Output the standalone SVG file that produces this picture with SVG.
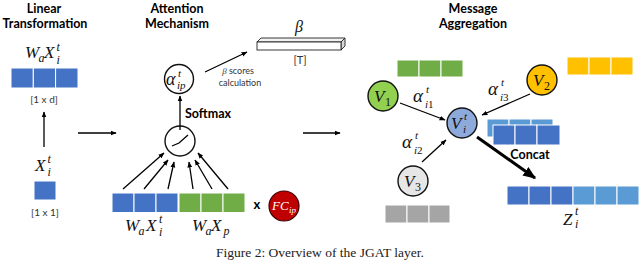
<svg xmlns="http://www.w3.org/2000/svg" width="640" height="262" viewBox="0 0 640 262">
<defs>
<style>
.t{font-family:Lato,"Liberation Sans",sans-serif;font-weight:bold;font-size:12.5px;fill:#000;text-anchor:middle}
.s{font-family:Lato,"Liberation Sans",sans-serif;font-size:10px;fill:#333;text-anchor:middle}
.m{font-family:"Liberation Serif","DejaVu Serif",serif;font-style:italic;font-size:17px;fill:#111}
.ms{font-family:"Liberation Serif","DejaVu Serif",serif;font-style:italic;font-size:12px;fill:#111}
.mu{font-family:"Liberation Serif","DejaVu Serif",serif;font-size:12px;fill:#111}
.b{fill:#4472c4;stroke:#fff;stroke-width:1}
.lb{fill:#5b9bd5;stroke:#fff;stroke-width:1}
.g{fill:#70ad47;stroke:#fff;stroke-width:1}
.y{fill:#ffc000;stroke:#fff;stroke-width:1}
.gr{fill:#a5a5a5;stroke:#fff;stroke-width:1}
.ar{stroke:#000;stroke-width:1.3;fill:none;marker-end:url(#ah)}
.node{stroke:#111;stroke-width:1.4}
</style>
<marker id="ah" viewBox="0 0 10 10" refX="9" refY="5" markerWidth="6" markerHeight="6" orient="auto" markerUnits="userSpaceOnUse"><path d="M0,1 L10,5 L0,9 z" fill="#000"/></marker>
<marker id="ahb" viewBox="0 0 10 10" refX="9" refY="5" markerWidth="13" markerHeight="13" orient="auto" markerUnits="userSpaceOnUse"><path d="M0,1 L10,5 L0,9 z" fill="#000"/></marker>
</defs>
<rect width="640" height="262" fill="#fff"/>

<!-- Titles -->
<g id="titles">
<text class="t" x="44" y="13">Linear</text>
<text class="t" x="45" y="28">Transformation</text>
<text class="t" x="177" y="13">Attention</text>
<text class="t" x="177" y="28">Mechanism</text>
<text class="t" x="473" y="13">Message</text>
<text class="t" x="473" y="28">Aggregation</text>
</g>

<!-- Linear transformation -->
<g id="wa-xi-vector">
<text class="m" x="25" y="58">W</text><text class="ms" x="38.5" y="62">a</text>
<text class="m" x="44" y="58">X</text><text class="ms" x="56.5" y="51">t</text><text class="ms" x="56.5" y="64">i</text>
<rect class="b" x="11" y="68" width="22.3" height="20"/>
<rect class="b" x="33.3" y="68" width="22.3" height="20"/>
<rect class="b" x="55.6" y="68" width="22.4" height="20"/>
<text class="s" x="44" y="103">[1 x d]</text>
</g>
<g id="xi-scalar">
<text class="m" x="35" y="171">X</text><text class="ms" x="47.5" y="163">t</text><text class="ms" x="47.5" y="176">i</text>
<rect class="b" x="34" y="181" width="22" height="19"/>
<text class="s" x="45" y="216">[1 x 1]</text>
</g>

<!-- Attention mechanism -->
<g id="alpha-ip">
<circle cx="179" cy="79" r="14.5" fill="#fff" class="node"/>
<text class="m" x="166" y="85" style="font-size:18px">α</text>
<text class="ms" x="178" y="77" style="font-size:11px">t</text>
<text class="ms" x="177" y="89" style="font-size:11px">ip</text>
</g>
<g id="beta">
<text class="m" x="295" y="32" style="font-size:16px">β</text>
<path d="M257,42 L261,38 L345,38 L341,42 z" fill="#f2f2f2" stroke="#222" stroke-width="0.9"/>
<path d="M341,42 L345,38 L345,46 L341,50 z" fill="#d9d9d9" stroke="#222" stroke-width="0.9"/>
<rect x="257" y="42" width="84" height="8" fill="#fff" stroke="#222" stroke-width="0.9"/>
<text class="s" x="300" y="64" style="font-size:11px">[T]</text>
</g>
<g id="neuron">
<circle cx="180" cy="141" r="15" fill="#fff" class="node"/>
<polyline points="172,146 179,143 188,135" fill="none" stroke="#000" stroke-width="1.3"/>
</g>
<g id="attention-input">
<rect class="b" x="112" y="193" width="22" height="19.5"/>
<rect class="b" x="134" y="193" width="22" height="19.5"/>
<rect class="b" x="156" y="193" width="22" height="19.5"/>
<rect class="g" x="179" y="193" width="22" height="19.5"/>
<rect class="g" x="201" y="193" width="22" height="19.5"/>
<rect class="g" x="223" y="193" width="22" height="19.5"/>
<text class="m" x="125" y="231">W</text><text class="ms" x="138.5" y="235">a</text>
<text class="m" x="146" y="231">X</text><text class="ms" x="159" y="223">t</text><text class="ms" x="159" y="236">i</text>
<text class="m" x="192" y="231">W</text><text class="ms" x="205.5" y="235">a</text>
<text class="m" x="211" y="231">X</text><text class="ms" x="223.5" y="235">p</text>
</g>
<g id="fc-ip">
<text x="257" y="209" style="font-family:Lato,'Liberation Sans',sans-serif;font-weight:bold;font-size:13px" text-anchor="middle">x</text>
<circle cx="284" cy="206" r="15" fill="#c00000" stroke="#3a0000" stroke-width="1.2"/>
<text x="272" y="210" style="font-family:'Liberation Serif',serif;font-style:italic;font-size:13px" fill="#fff">FC</text>
<text x="289" y="213" style="font-family:'Liberation Serif',serif;font-style:italic;font-size:9px" fill="#fff">ip</text>
</g>

<!-- Message aggregation -->
<g id="v1">
<rect class="g" x="397" y="60" width="22" height="17"/>
<rect class="g" x="419" y="60" width="22" height="17"/>
<rect class="g" x="441" y="60" width="22" height="17"/>
<circle cx="383" cy="96" r="15" fill="#92d050" class="node"/>
<text class="m" x="374" y="102" style="font-size:17px">V</text><text class="mu" x="385" y="106">1</text>
</g>
<g id="v2">
<rect class="y" x="567" y="57" width="22" height="18"/>
<rect class="y" x="589" y="57" width="22" height="18"/>
<rect class="y" x="611" y="57" width="22" height="18"/>
<circle cx="542" cy="80" r="15" fill="#ffc000" class="node"/>
<text class="m" x="533" y="86" style="font-size:17px">V</text><text class="mu" x="544" y="90">2</text>
</g>
<g id="v3">
<circle cx="413" cy="181" r="15" fill="#e6e6e6" class="node"/>
<text class="m" x="404" y="187" style="font-size:17px">V</text><text class="mu" x="415" y="191">3</text>
<rect class="gr" x="385" y="205" width="22" height="18"/>
<rect class="gr" x="407" y="205" width="22" height="18"/>
<rect class="gr" x="429" y="205" width="21" height="18"/>
</g>
<g id="vi">
<circle cx="462" cy="123" r="15" fill="#8eaadb" class="node"/>
<text class="m" x="451" y="129" style="font-size:17px">V</text><text class="ms" x="464" y="120" style="font-size:11px">t</text><text class="ms" x="463" y="133" style="font-size:11px">i</text>
</g>
<g id="concat">
<rect class="lb" x="487" y="119" width="22" height="18"/>
<rect class="lb" x="509" y="119" width="22" height="18"/>
<rect class="lb" x="531" y="119" width="22" height="18"/>
<rect class="b" x="493" y="125" width="22" height="20"/>
<rect class="b" x="515" y="125" width="22" height="20"/>
<rect class="b" x="537" y="125" width="23" height="20"/>
<text class="t" x="530" y="159">Concat</text>
</g>
<g id="zi">
<rect class="b" x="507" y="186" width="22" height="19"/>
<rect class="b" x="529" y="186" width="22" height="19"/>
<rect class="b" x="551" y="186" width="22" height="19"/>
<rect class="lb" x="573" y="186" width="22" height="19"/>
<rect class="lb" x="595" y="186" width="22" height="19"/>
<rect class="lb" x="617" y="186" width="22" height="19"/>
<text class="m" x="563" y="225">Z</text><text class="ms" x="575" y="215">t</text><text class="ms" x="575" y="228">i</text>
</g>

<!-- Connectors -->
<g id="connectors">
<line class="ar" x1="44" y1="147" x2="44" y2="112"/>
<line class="ar" x1="78" y1="133" x2="116" y2="133"/>
<line class="ar" x1="303" y1="133" x2="340" y2="133"/>
<line class="ar" x1="180" y1="130" x2="180" y2="96"/>
<line class="ar" x1="205" y1="72" x2="247" y2="52"/>
<line class="ar" x1="123" y1="189" x2="164" y2="153"/>
<line class="ar" x1="144" y1="189" x2="168" y2="160"/>
<line class="ar" x1="168" y1="189" x2="174" y2="162"/>
<line class="ar" x1="193" y1="189" x2="189" y2="162"/>
<line class="ar" x1="212" y1="189" x2="195" y2="160"/>
<line class="ar" x1="228" y1="189" x2="198" y2="153"/>
<line class="ar" x1="400" y1="103" x2="445" y2="120"/>
<line class="ar" x1="530" y1="94" x2="482" y2="115"/>
<line class="ar" x1="422" y1="162" x2="446" y2="140"/>
<line x1="477" y1="137" x2="535" y2="178" stroke="#000" stroke-width="3" marker-end="url(#ahb)"/>
</g>

<!-- Connector labels -->
<g id="labels">
<text x="238" y="74" class="s" style="font-size:9px"><tspan font-style="italic" font-family="Liberation Serif,serif">β</tspan> scores</text>
<text x="240" y="86" class="s" style="font-size:9px">calculation</text>
<text class="t" x="208" y="118">Softmax</text>
<text class="m" x="413" y="102" style="font-size:19px">α</text><text class="ms" x="426" y="93" style="font-size:11px">t</text><text class="ms" x="425" y="108" style="font-size:11px">i<tspan font-style="normal">1</tspan></text>
<text class="m" x="488" y="95" style="font-size:19px">α</text><text class="ms" x="501" y="86" style="font-size:11px">t</text><text class="ms" x="500" y="101" style="font-size:11px">i<tspan font-style="normal">3</tspan></text>
<text class="m" x="402" y="148" style="font-size:19px">α</text><text class="ms" x="415" y="139" style="font-size:11px">t</text><text class="ms" x="414" y="154" style="font-size:11px">i<tspan font-style="normal">2</tspan></text>
</g>

<text x="320" y="257" text-anchor="middle" style="font-family:'Liberation Serif',serif;font-size:13.5px" fill="#222">Figure 2: Overview of the JGAT layer.</text>
</svg>
